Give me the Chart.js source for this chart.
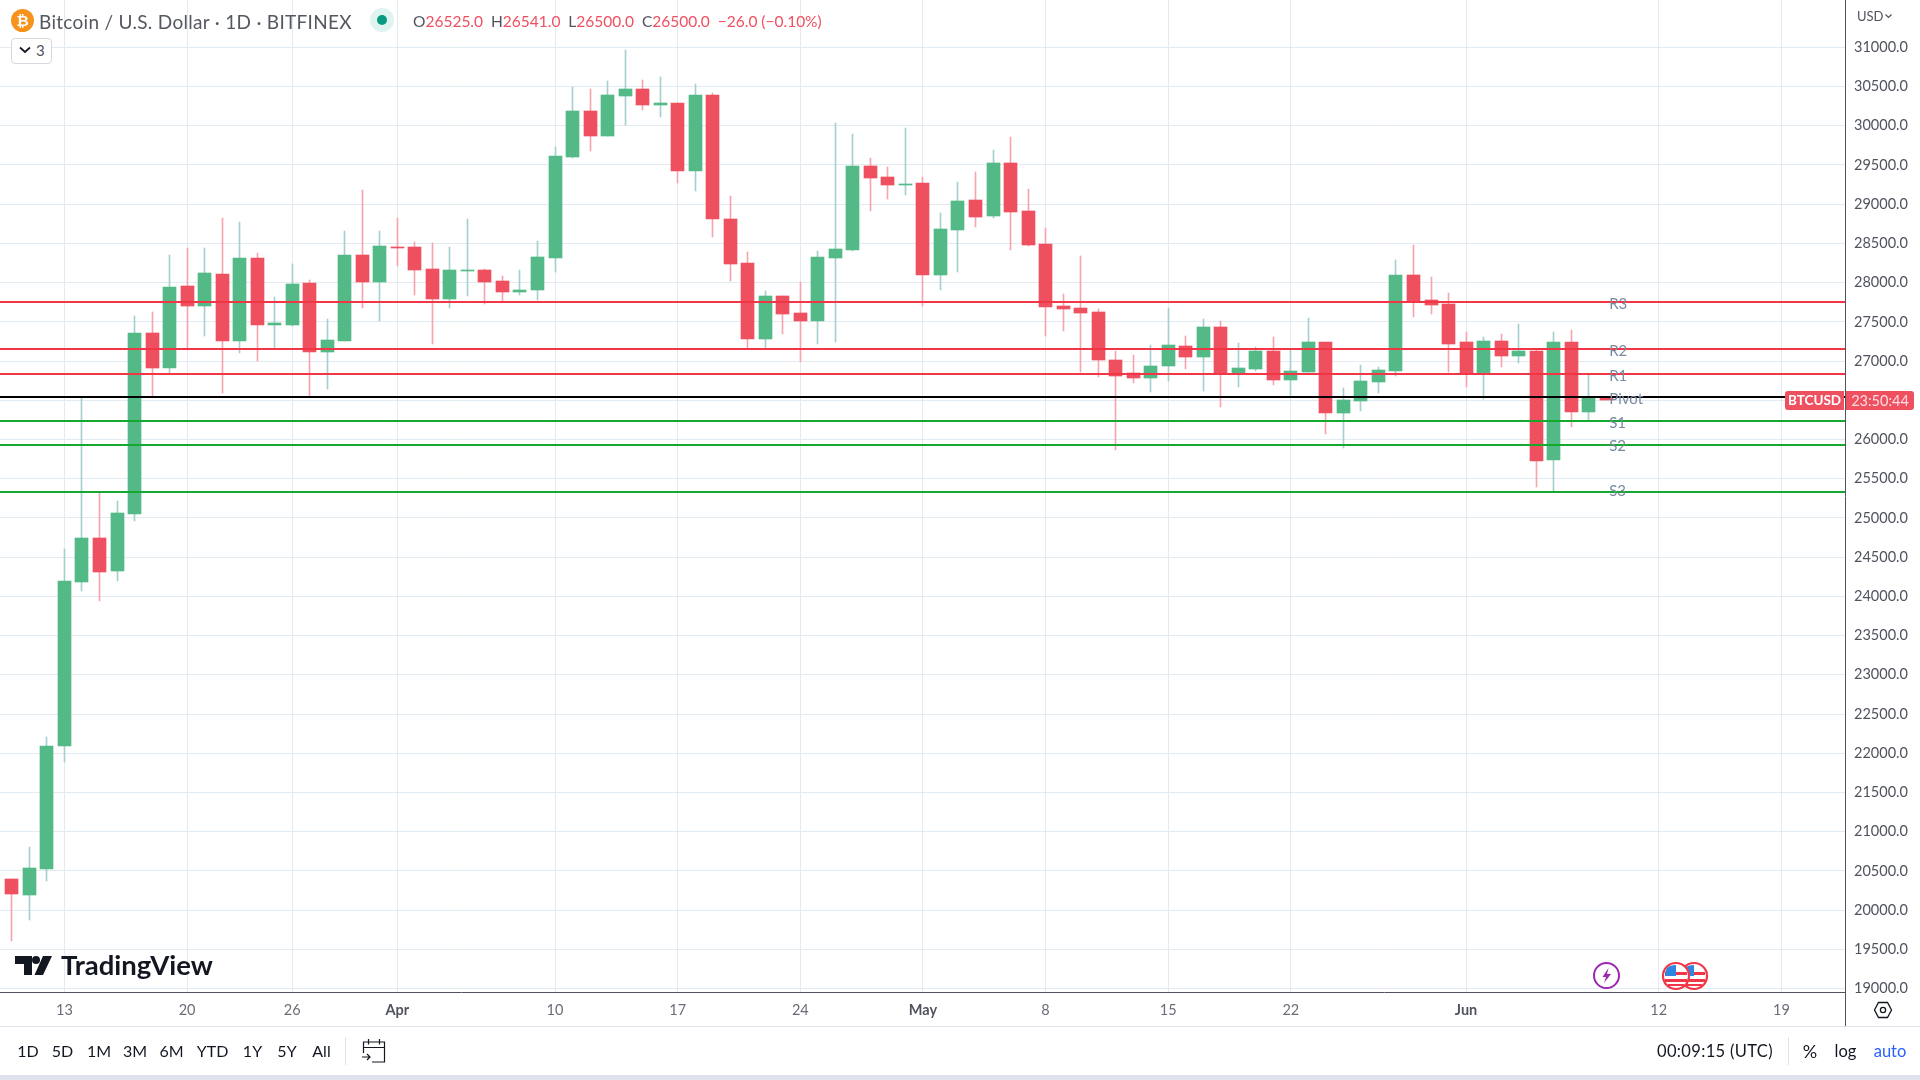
<!DOCTYPE html>
<html>
<head>
<meta charset="utf-8">
<title>BTCUSD</title>
<script src="https://cdn.jsdelivr.net/npm/chart.js@4/dist/chart.umd.min.js"></script>
<style>
  html, body { margin: 0; padding: 0; background: #fff; overflow: hidden; }
  body { width: 1920px; height: 1080px; position: relative; font-family: Lato, sans-serif; color: #131722; }
  canvas { position: absolute; left: 0; top: 0; }
  .t { position: absolute; white-space: nowrap; line-height: 1; }
  .c { transform: translate(-50%, -50%); }
  .m { transform: translateY(-50%); }
  .box { position: absolute; }
  svg { position: absolute; overflow: visible; }
  .red { color: #ef5060; }
  .gr { color: #50535e; }
</style>
</head>
<body>
<canvas id="mycanvas" width="1920" height="1080"></canvas>

<!-- header -->
<svg style="left:11px;top:9px" width="23" height="23" viewBox="0 0 23 23"><circle cx="11.5" cy="11.5" r="11.5" fill="#f7931a"/></svg>
<div class="t c" style="left:22.5px;top:20px;font-size:15px;font-weight:700;color:#fff">₿</div>
<div class="t m" style="left:39px;top:21px;font-size:19px;color:#555861;letter-spacing:.3px">Bitcoin / U.S. Dollar · 1D · BITFINEX</div>
<svg style="left:370px;top:8px" width="24" height="24" viewBox="0 0 24 24"><circle cx="12" cy="12" r="12" fill="#dff3ef"/><circle cx="12" cy="12" r="5" fill="#089981"/></svg>
<div class="t m" style="left:413px;top:22px;font-size:15.5px"><span class="gr">O</span><span class="red">26525.0</span> &nbsp;<span class="gr">H</span><span class="red">26541.0</span> &nbsp;<span class="gr">L</span><span class="red">26500.0</span> &nbsp;<span class="gr">C</span><span class="red">26500.0</span> &nbsp;<span class="red">−26.0 (−0.10%)</span></div>
<div class="box" style="left:11px;top:38px;width:39px;height:24px;border:1px solid #d6d8e0;border-radius:4px;background:#fff"></div>
<svg style="left:19px;top:46px" width="12" height="8" viewBox="0 0 12 8"><path d="M1 1.5 L6 6 L11 1.5" fill="none" stroke="#131722" stroke-width="1.7"/></svg>
<div class="t m" style="left:36px;top:50px;font-size:15px;color:#50535e">3</div>
<div class="t m" style="left:1857px;top:16px;font-size:13px;color:#50535e">USD</div>
<svg style="left:1885px;top:14px" width="7" height="5" viewBox="0 0 7 5"><path d="M.5 .5 L3.5 3.5 L6.5 .5" fill="none" stroke="#50535e" stroke-width="1.2"/></svg>

<!-- price tags -->
<div class="box" style="left:1785px;top:391px;width:59px;height:19px;background:#ef5060;border-radius:3px 0 0 3px"></div>
<div class="box" style="left:1846px;top:391px;width:68px;height:19px;background:#ef5060;border-radius:0 3px 3px 0"></div>
<div class="t c" style="left:1814.5px;top:400.5px;font-size:13.5px;font-weight:700;color:#fff">BTCUSD</div>
<div class="t c" style="left:1880px;top:400.5px;font-size:14.5px;color:#fcdde0">23:50:44</div>

<!-- logo -->
<svg style="left:15px;top:956px" width="38" height="20" viewBox="0 0 38 20"><path d="M0 0 H17 V19 H9 V8 H0 Z M19 0 H37 L28 19 H19.5 L28 0 Z" fill="#131722"/><circle cx="21" cy="4" r="4" fill="#131722"/></svg>
<div class="t m" style="left:61px;top:965px;font-size:27.5px;font-weight:700;color:#131722">TradingView</div>

<!-- events -->
<svg style="left:1593px;top:962px" width="27" height="27" viewBox="0 0 27 27"><circle cx="13.5" cy="13.5" r="12.5" fill="#fff" stroke="#9c27b0" stroke-width="2"/><path d="M15.5 6 L9.5 15 H13 L11 21 L18 12 H14 Z" fill="#9c27b0"/></svg>
<svg style="left:1680px;top:962px" width="28" height="28" viewBox="0 0 28 28"><circle cx="14" cy="14" r="13" fill="#fff" stroke="#f23645" stroke-width="2.2"/><path d="M3 10 H25 V13 H3 Z M3 17 H25 V20 H3 Z M6 22 H22 V24 H6 Z" fill="#f23645"/><path d="M5 6 Q8 3 14 3 V14 H3 Q3 9 5 6 Z" fill="#2f86e0"/></svg>
<svg style="left:1662px;top:962px" width="28" height="28" viewBox="0 0 28 28"><circle cx="14" cy="14" r="13" fill="#fff" stroke="#f23645" stroke-width="2.2"/><path d="M3 10 H25 V13 H3 Z M3 17 H25 V20 H3 Z M6 22 H22 V24 H6 Z" fill="#f23645"/><path d="M5 6 Q8 3 14 3 V14 H3 Q3 9 5 6 Z" fill="#2f86e0"/></svg>

<!-- axis bits -->
<div class="box" style="left:1845px;top:992px;width:1px;height:34px;background:#50535e"></div>
<svg style="left:1874px;top:1001px" width="18" height="18" viewBox="0 0 18 18"><path d="M4.5 1.5 H13.5 L17.5 9 L13.5 16.5 H4.5 L.5 9 Z" fill="none" stroke="#131722" stroke-width="1.3"/><circle cx="9" cy="9" r="2.6" fill="none" stroke="#131722" stroke-width="1.3"/></svg>

<!-- bottom toolbar -->
<div class="box" style="left:0;top:1026px;width:1920px;height:1px;background:#e0e3eb"></div>
<div class="t c" style="left:28px;top:1051px;font-size:16px">1D</div>
<div class="t c" style="left:62.5px;top:1051px;font-size:16px">5D</div>
<div class="t c" style="left:99px;top:1051px;font-size:16px">1M</div>
<div class="t c" style="left:135px;top:1051px;font-size:16px">3M</div>
<div class="t c" style="left:171.5px;top:1051px;font-size:16px">6M</div>
<div class="t c" style="left:212.5px;top:1051px;font-size:16px">YTD</div>
<div class="t c" style="left:252.5px;top:1051px;font-size:16px">1Y</div>
<div class="t c" style="left:287px;top:1051px;font-size:16px">5Y</div>
<div class="t c" style="left:321.5px;top:1051px;font-size:16px">All</div>
<div class="box" style="left:345px;top:1037px;width:1px;height:28px;background:#e0e3eb"></div>
<svg style="left:362px;top:1038px" width="24" height="25" viewBox="0 0 24 25"><path d="M1.5 15 V4 H22.5 V24 H10 M1.5 9.5 H22.5 M6.5 1 V6.5 M17.5 1 V6.5 M0 19 H8 M5 16 L8 19 L5 22" fill="none" stroke="#131722" stroke-width="1.2"/></svg>
<div class="t m" style="left:1657px;top:1051px;font-size:16.5px;letter-spacing:.35px">00:09:15 (UTC)</div>
<div class="box" style="left:1788px;top:1037px;width:1px;height:28px;background:#e0e3eb"></div>
<div class="t c" style="left:1810px;top:1051px;font-size:18px">%</div>
<div class="t c" style="left:1845.5px;top:1051px;font-size:16.5px">log</div>
<div class="t c" style="left:1890px;top:1051px;font-size:16.5px;color:#2962ff">auto</div>
<div class="box" style="left:0;top:1075px;width:1920px;height:5px;background:#e0e3eb"></div>

<script>
// daily candles, Mar 10 to Jun 9
var opens = [20396,20192,20524,22092,24183,24744,24323,25050,27358,26912,27957,27702,28110,27256,28314,27460,27460,27995,27116,27256,
  28352,28008,28454,28454,28174,27791,28148,28161,28021,27881,27906,28314,29602,30188,29870,30380,30469,30265,30290,29423,
  30392,28811,28250,27281,27830,27613,27511,28314,28416,29487,29347,29245,29270,28097,28671,29054,28850,29525,28913,28493,
  27702,27677,27626,27014,26848,26784,26937,27192,27052,27434,26835,26899,27128,26759,26861,27243,26338,26491,26733,26873,
  28097,27779,27728,27243,26844,27256,27065,27128,25739,27243,26351,26525];
var highs = [20396,20804,22207,24604,26525,25318,25216,27575,27626,28352,28442,28442,28824,28773,28378,27817,28238,28034,27536,28658,
  29181,28658,28824,28518,28505,28454,28811,28174,28085,28161,28531,29729,30494,30469,30571,30966,30584,30622,30290,30533,
  30418,29105,28391,27893,27830,28008,28403,30035,29895,29589,29474,29972,29347,28888,29283,29411,29691,29857,29194,28697,
  27855,28340,27664,27128,27077,27205,27677,27320,27536,27511,27230,27179,27307,27141,27549,27243,26657,26950,26924,28289,
  28480,28072,27868,27371,27307,27345,27473,27141,27371,27396,26822,26541];
var lows = [19606,19874,20371,21888,24068,23941,24196,24961,26555,26844,27141,27320,26593,27107,27001,27162,27447,26555,26644,27256,
  27677,27511,28212,27842,27218,27677,27830,27728,27753,27842,27779,28136,29589,29678,29870,30010,30201,30112,29270,29168,
  28582,28021,27162,27162,27345,26992,27218,27243,28403,28913,29066,29117,27702,27906,28136,28709,28824,28416,28467,27320,
  27383,26865,26797,25866,26720,26606,26746,26899,26618,26414,26669,26873,26695,26546,26861,26070,25892,26363,26593,26810,
  27562,27600,26861,26669,26516,26924,26975,25394,25331,26159,26249,26500];
var closes = [20205,20537,22092,24196,24744,24311,25063,27358,26912,27944,27702,28123,27256,28314,27460,27485,27983,27116,27269,28352,
  28008,28467,28437,28161,27791,28161,28161,28008,27881,27906,28327,29615,30188,29870,30392,30469,30265,30290,29423,30392,
  28811,28238,27281,27830,27600,27511,28327,28429,29487,29334,29245,29258,28097,28684,29041,28837,29525,28901,28480,27689,
  27664,27613,27014,26810,26784,26937,27205,27052,27434,26835,26912,27128,26759,26873,27243,26338,26504,26746,26886,28097,
  27753,27715,27218,26835,27256,27065,27128,25726,27243,26351,26529,26500];

// pivot levels
var levelNames = ['R3','R2','R1','Pivot','S1','S2','S3'];
var levelValues = [27753,27154,26835,26542,26236,25930,25331];

// time axis, candle index of each label (future days run past the last candle)
var tickDays = [3,10,16,22,31,38,45,52,59,66,73,83,94,101];
var tickLabels = ['13','20','26','Apr','10','17','24','May','8','15','22','Jun','12','19'];
var monthLabels = ['Apr','May','Jun'];

// price axis
var priceTicks = [19000,19500,20000,20500,21000,21500,22000,22500,23000,23500,24000,24500,25000,25500,26000,26500,27000,27500,28000,28500,29000,29500,30000,30500,31000];

var GREEN = '#53b987', RED = '#ef5060';
var GREEN_WICK = '#a6cfcf', RED_WICK = '#f6a5b0';
var GRID = '#e2ebf1';
var FONT = 'Lato, sans-serif';

var xMin = -0.68, xMax = 104.63;
var yMin = 18955.5, yMax = 31603.5;

function isUp(i) { return closes[i] >= opens[i]; }

var wickData = [];
var bodyData = [];
for (var i = 0; i < opens.length; i++) {
  wickData.push({x: i, y: [lows[i], highs[i]]});
  bodyData.push({x: i, y: [opens[i], closes[i]]});
}

var datasets = [];
for (var n = 0; n < levelNames.length; n++) {
  var first = levelNames[n].charAt(0);
  datasets.push({
    type: 'line',
    label: levelNames[n],
    data: [{x: xMin, y: levelValues[n]}, {x: xMax, y: levelValues[n]}],
    borderColor: first == 'R' ? '#f23645' : (first == 'S' ? '#14a82e' : '#000000'),
    borderWidth: 2,
    pointRadius: 0,
    order: 0
  });
}
datasets.push({
  type: 'bar',
  label: 'body',
  data: bodyData,
  grouped: false,
  barThickness: 13,
  borderWidth: 0,
  backgroundColor: function(c) { return isUp(c.dataIndex) ? GREEN : RED; },
  order: 1
});
datasets.push({
  type: 'bar',
  label: 'wick',
  data: wickData,
  grouped: false,
  barThickness: 1,
  borderWidth: 0,
  backgroundColor: function(c) { return isUp(c.dataIndex) ? GREEN_WICK : RED_WICK; },
  order: 2
});

// keep the candles on whole pixels so they stay crisp
var snapCandles = {
  id: 'snapCandles',
  beforeDatasetsDraw: function(chart) {
    chart.data.datasets.forEach(function(ds, k) {
      if (ds.type != 'bar') return;
      chart.getDatasetMeta(k).data.forEach(function(el) {
        el.x = Math.floor(el.x) + 0.5;
        el.y = Math.round(el.y);
        el.base = Math.round(el.base);
        if (el.y == el.base) el.base = el.y + 1;
      });
    });
  }
};

var levelText = {
  id: 'levelText',
  afterDatasetsDraw: function(chart) {
    var ctx = chart.ctx;
    var left = chart.scales.x.getPixelForValue(opens.length - 1) + 3;
    ctx.save();
    ctx.font = '15px ' + FONT;
    ctx.fillStyle = '#7a8a9f';
    ctx.textBaseline = 'middle';
    ctx.textAlign = 'left';
    for (var n = 0; n < levelNames.length; n++) {
      var nudge = levelNames[n] == 'S3' ? -1 : (levelNames[n] == 'S2' ? 1 : 2);
      ctx.fillText(levelNames[n], left, chart.scales.y.getPixelForValue(levelValues[n]) + nudge);
    }
    ctx.restore();
  }
};

var ctx = document.getElementById('mycanvas').getContext('2d');
var chart = new Chart(ctx, {
  type: 'bar',
  data: {datasets: datasets},
  plugins: [snapCandles, levelText],
  options: {
    responsive: false,
    animation: false,
    devicePixelRatio: 1,
    layout: {padding: {left: 0, top: 0, right: 0, bottom: 54}},
    plugins: {legend: {display: false}, tooltip: {enabled: false}},
    scales: {
      x: {
        type: 'linear',
        offset: false,
        min: xMin,
        max: xMax,
        afterBuildTicks: function(scale) {
          scale.ticks = tickDays.map(function(d) { return {value: d}; });
        },
        afterFit: function(scale) {
          scale.height = 34;
          scale.paddingLeft = 0;
          scale.paddingRight = 0;
        },
        grid: {color: GRID, lineWidth: 1, drawTicks: false, offset: false},
        border: {color: '#50535e', width: 1},
        ticks: {
          autoSkip: false,
          maxRotation: 0,
          padding: 10,
          color: function(c) { return monthLabels.indexOf(tickLabels[c.index]) >= 0 ? '#50535e' : '#6a6d78'; },
          font: function(c) {
            return {family: FONT, size: 14.5, weight: monthLabels.indexOf(tickLabels[c.index]) >= 0 ? 'bold' : 'normal'};
          },
          callback: function(v, idx) { return tickLabels[idx]; }
        }
      },
      y: {
        type: 'linear',
        position: 'right',
        min: yMin,
        max: yMax,
        afterBuildTicks: function(scale) {
          scale.ticks = priceTicks.map(function(p) { return {value: p}; });
        },
        afterFit: function(scale) {
          scale.width = 75;
          scale.paddingTop = 0;
          scale.paddingBottom = 0;
        },
        grid: {color: GRID, lineWidth: 1, drawTicks: false},
        border: {color: '#50535e', width: 1},
        ticks: {
          autoSkip: false,
          padding: 9,
          color: '#50535e',
          font: {family: FONT, size: 14.5},
          callback: function(v) { return v.toFixed(1); }
        }
      }
    }
  }
});
</script>
</body>
</html>
